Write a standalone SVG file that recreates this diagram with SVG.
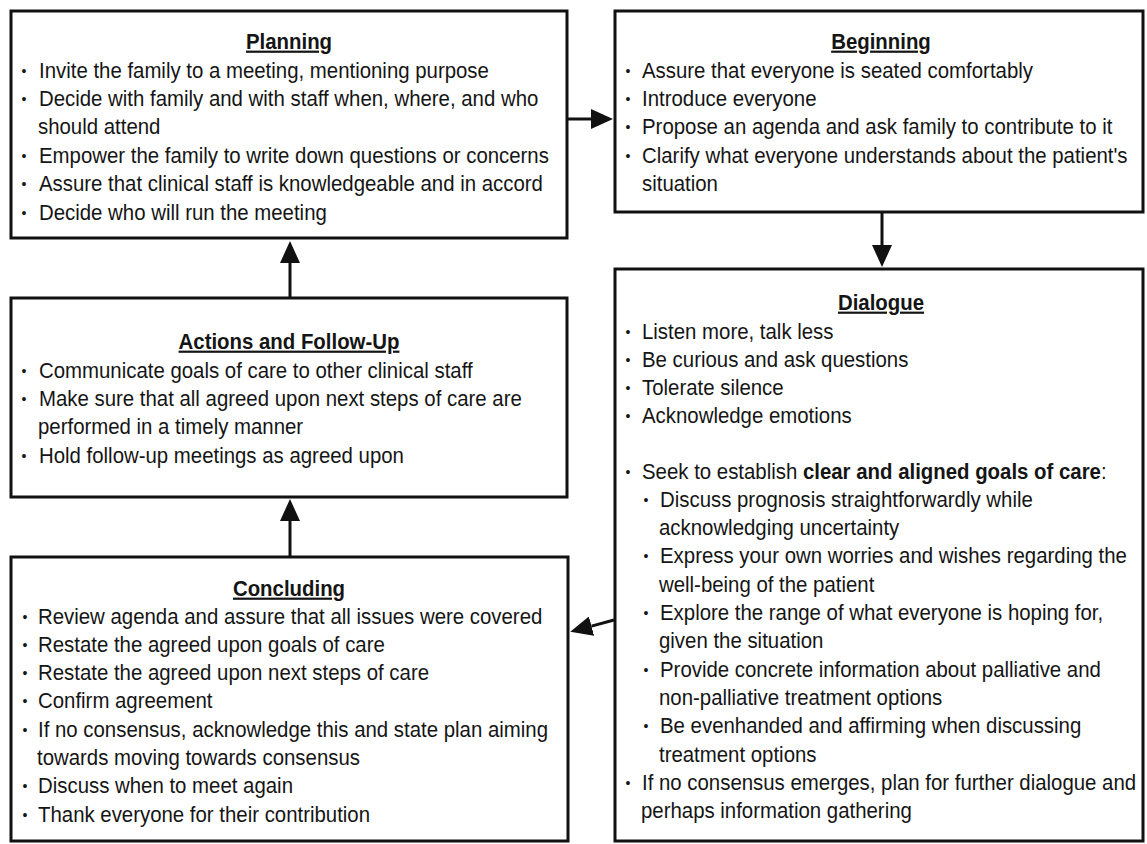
<svg xmlns="http://www.w3.org/2000/svg" width="1147" height="844" viewBox="0 0 1147 844">
  <style>
    .box { fill: #ffffff; stroke: #111111; stroke-width: 3; }
    .t { font-family: "Liberation Sans", Arial, Helvetica, sans-serif; font-size: 20.4px; fill: #151515;
         transform-box: fill-box; transform-origin: 50% 50%; transform: scaleY(1.08); }
    .h { font-weight: bold; text-anchor: middle; text-decoration: underline; }
    .bl { font-family: "Liberation Sans", Arial, Helvetica, sans-serif; font-size: 14px; text-anchor: middle; fill: #151515; }
    .conn path { fill: none; stroke: #111111; stroke-width: 3; }
  </style>
  <defs>
    <marker id="head" markerUnits="userSpaceOnUse" viewBox="0 0 22 20" markerWidth="22" markerHeight="20" refX="0" refY="10" orient="auto">
      <path d="M0,0 L22,10 L0,20 Z" fill="#111111"/>
    </marker>
  </defs>

  <rect x="0" y="0" width="1147" height="844" fill="#ffffff"/>

  <!-- Planning -->
  <g id="planning">
    <rect class="box" x="11" y="11" width="556" height="227"/>
    <text class="t h" x="289" y="48">Planning</text>
    <text class="bl" x="24" y="75.5">•</text>
    <text class="t" x="39" y="77">Invite the family to a meeting, mentioning purpose</text>
    <text class="bl" x="24" y="103.9">•</text>
    <text class="t" x="39" y="105.4">Decide with family and with staff when, where, and who</text>
    <text class="t" x="38" y="133.8">should attend</text>
    <text class="bl" x="24" y="160.7">•</text>
    <text class="t" x="39" y="162.2">Empower the family to write down questions or concerns</text>
    <text class="bl" x="24" y="189.1">•</text>
    <text class="t" x="39" y="190.6">Assure that clinical staff is knowledgeable and in accord</text>
    <text class="bl" x="24" y="217.5">•</text>
    <text class="t" x="39" y="219">Decide who will run the meeting</text>
  </g>

  <!-- Beginning -->
  <g id="beginning">
    <rect class="box" x="615" y="11" width="528" height="201"/>
    <text class="t h" x="881" y="48">Beginning</text>
    <text class="bl" x="628" y="75.5">•</text>
    <text class="t" x="642" y="77">Assure that everyone is seated comfortably</text>
    <text class="bl" x="628" y="103.9">•</text>
    <text class="t" x="642" y="105.4">Introduce everyone</text>
    <text class="bl" x="628" y="132.3">•</text>
    <text class="t" x="642" y="133.8">Propose an agenda and ask family to contribute to it</text>
    <text class="bl" x="628" y="160.7">•</text>
    <text class="t" x="642" y="162.2">Clarify what everyone understands about the patient's</text>
    <text class="t" x="642" y="190.6">situation</text>
  </g>

  <!-- Dialogue -->
  <g id="dialogue">
    <rect class="box" x="615" y="269" width="528" height="572"/>
    <text class="t h" x="881" y="309">Dialogue</text>
    <text class="bl" x="628" y="336.5">•</text>
    <text class="t" x="642" y="338">Listen more, talk less</text>
    <text class="bl" x="628" y="364.8">•</text>
    <text class="t" x="642" y="366.3">Be curious and ask questions</text>
    <text class="bl" x="628" y="393.1">•</text>
    <text class="t" x="642" y="394.6">Tolerate silence</text>
    <text class="bl" x="628" y="421.4">•</text>
    <text class="t" x="642" y="422.9">Acknowledge emotions</text>
    <text class="bl" x="628" y="476.5">•</text>
    <text class="t" x="642" y="478">Seek to establish <tspan font-weight="bold">clear and aligned goals of care</tspan>:</text>
    <text class="bl" x="646" y="504.8">•</text>
    <text class="t" x="660" y="506.3">Discuss prognosis straightforwardly while</text>
    <text class="t" x="659" y="534.6">acknowledging uncertainty</text>
    <text class="bl" x="646" y="561.4">•</text>
    <text class="t" x="660" y="562.9">Express your own worries and wishes regarding the</text>
    <text class="t" x="659" y="591.2">well-being of the patient</text>
    <text class="bl" x="646" y="618">•</text>
    <text class="t" x="660" y="619.5">Explore the range of what everyone is hoping for,</text>
    <text class="t" x="659" y="647.8">given the situation</text>
    <text class="bl" x="646" y="674.6">•</text>
    <text class="t" x="660" y="676.1">Provide concrete information about palliative and</text>
    <text class="t" x="659" y="704.4">non-palliative treatment options</text>
    <text class="bl" x="646" y="731.2">•</text>
    <text class="t" x="660" y="732.7">Be evenhanded and affirming when discussing</text>
    <text class="t" x="659" y="761">treatment options</text>
    <text class="bl" x="628" y="787.8">•</text>
    <text class="t" x="642" y="789.3">If no consensus emerges, plan for further dialogue and</text>
    <text class="t" x="641" y="817.6">perhaps information gathering</text>
  </g>

  <!-- Actions and Follow-Up -->
  <g id="actions">
    <rect class="box" x="11" y="298" width="556" height="199"/>
    <text class="t h" x="289" y="348">Actions and Follow-Up</text>
    <text class="bl" x="24" y="375.5">•</text>
    <text class="t" x="39" y="377">Communicate goals of care to other clinical staff</text>
    <text class="bl" x="24" y="403.9">•</text>
    <text class="t" x="39" y="405.4">Make sure that all agreed upon next steps of care are</text>
    <text class="t" x="38" y="433.8">performed in a timely manner</text>
    <text class="bl" x="24" y="460.7">•</text>
    <text class="t" x="39" y="462.2">Hold follow-up meetings as agreed upon</text>
  </g>

  <!-- Concluding -->
  <g id="concluding">
    <rect class="box" x="11" y="557" width="557" height="284"/>
    <text class="t h" x="289" y="595">Concluding</text>
    <text class="bl" x="25" y="621.5">•</text>
    <text class="t" x="38" y="623">Review agenda and assure that all issues were covered</text>
    <text class="bl" x="25" y="649.8">•</text>
    <text class="t" x="38" y="651.3">Restate the agreed upon goals of care</text>
    <text class="bl" x="25" y="678.1">•</text>
    <text class="t" x="38" y="679.6">Restate the agreed upon next steps of care</text>
    <text class="bl" x="25" y="706.4">•</text>
    <text class="t" x="38" y="707.9">Confirm agreement</text>
    <text class="bl" x="25" y="734.7">•</text>
    <text class="t" x="38" y="736.2">If no consensus, acknowledge this and state plan aiming</text>
    <text class="t" x="37" y="764.5">towards moving towards consensus</text>
    <text class="bl" x="25" y="791.3">•</text>
    <text class="t" x="38" y="792.8">Discuss when to meet again</text>
    <text class="bl" x="25" y="819.6">•</text>
    <text class="t" x="38" y="821.1">Thank everyone for their contribution</text>
  </g>

  <!-- Connectors: each path ends at the arrowhead base -->
  <g id="connectors" class="conn">
    <path d="M567,119 L591,119" marker-end="url(#head)"/>
    <path d="M882,212 L882,245" marker-end="url(#head)"/>
    <path d="M614,620 L591.5,626.1" marker-end="url(#head)"/>
    <path d="M290,557 L290,521" marker-end="url(#head)"/>
    <path d="M290,298 L290,263" marker-end="url(#head)"/>
  </g>
</svg>
